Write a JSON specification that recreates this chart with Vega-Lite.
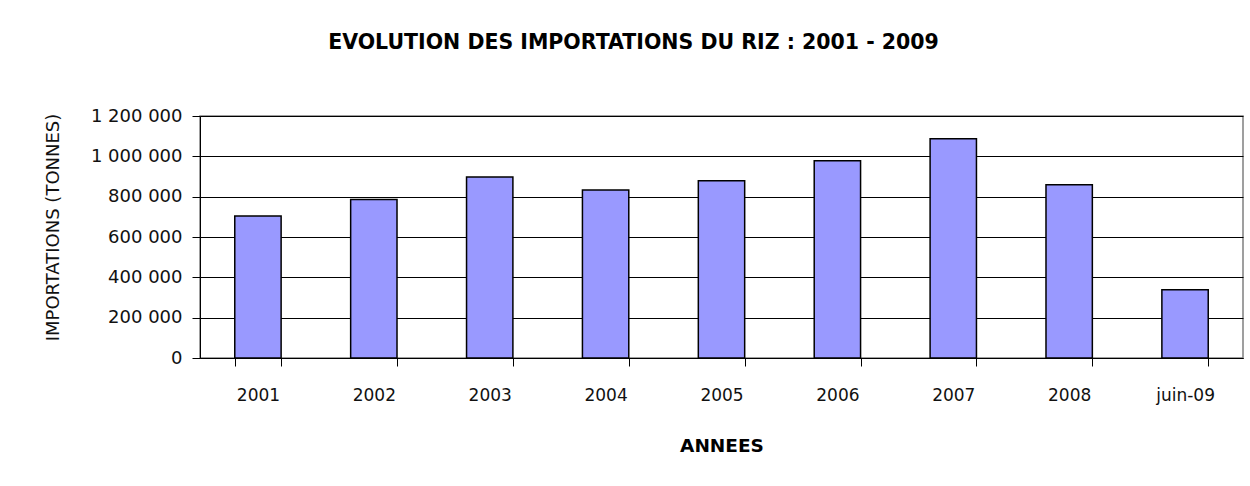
{
  "$schema": "https://vega.github.io/schema/vega-lite/v6.json",
  "width": 1043,
  "height": 242,
  "autosize": {"type": "none"},
  "padding": {"left": 200, "top": 116, "right": 7, "bottom": 128},
  "background": "white",
  "title": {
    "text": "EVOLUTION DES IMPORTATIONS DU RIZ : 2001 - 2009",
    "anchor": "middle",
    "frame": "group",
    "dx": -88,
    "offset": 54,
    "font": "DejaVu Sans",
    "fontSize": 20.5,
    "fontWeight": "bold",
    "color": "#000"
  },
  "data": {
    "values": [
      {"annee": "2001", "importations": 704000},
      {"annee": "2002", "importations": 786000},
      {"annee": "2003", "importations": 897000},
      {"annee": "2004", "importations": 833000},
      {"annee": "2005", "importations": 879000},
      {"annee": "2006", "importations": 978000},
      {"annee": "2007", "importations": 1087000},
      {"annee": "2008", "importations": 859000},
      {"annee": "juin-09", "importations": 338000}
    ]
  },
  "mark": {"type": "bar", "color": "#9999FF", "stroke": "#000", "strokeWidth": 1.5},
  "encoding": {
    "x": {
      "field": "annee",
      "type": "nominal",
      "sort": null,
      "scale": {"paddingInner": 0.6, "paddingOuter": 0.3},
      "axis": {
        "title": "ANNEES",
        "labelAngle": 0,
        "tickBand": "extent",
        "tickSize": 8,
        "tickColor": "#000",
        "domainColor": "#000",
        "labelPadding": 21,
        "labelFont": "DejaVu Sans",
        "labelFontSize": 17,
        "labelColor": "#111",
        "titleFont": "DejaVu Sans",
        "titleFontSize": 18.5,
        "titleFontWeight": "bold",
        "titleColor": "#000",
        "titlePadding": 33,
        "grid": false
      }
    },
    "y": {
      "field": "importations",
      "type": "quantitative",
      "scale": {"domain": [0, 1200000], "nice": false},
      "axis": {
        "title": "IMPORTATIONS (TONNES)",
        "values": [0, 200000, 400000, 600000, 800000, 1000000, 1200000],
        "format": ",d",
        "tickSize": 8,
        "tickColor": "#000",
        "domainColor": "#000",
        "gridColor": "#000",
        "gridOpacity": 1,
        "gridWidth": 1,
        "labelPadding": 10,
        "labelFont": "DejaVu Sans",
        "labelFontSize": 18,
        "labelColor": "#111",
        "titleFont": "DejaVu Sans",
        "titleFontSize": 18,
        "titleFontWeight": "normal",
        "titleColor": "#111",
        "titlePadding": 28,
        "titleY": 111
      }
    }
  },
  "config": {
    "locale": {
      "number": {"decimal": ",", "thousands": " ", "grouping": [3], "currency": ["", " €"]}
    },
    "view": {"stroke": "#808080", "strokeWidth": 1.5}
  }
}
